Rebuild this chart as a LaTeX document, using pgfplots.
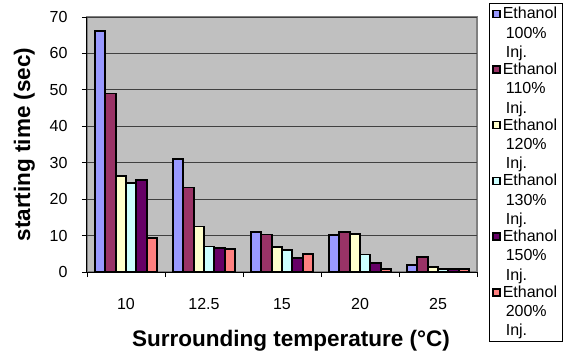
\documentclass[border=0pt]{standalone}
\usepackage{pgfplots}
\usepackage{pgfplotstable}
\pgfplotsset{compat=1.18}
\usepackage{fontspec}
\setmainfont{Liberation Sans}

\definecolor{cA}{HTML}{9999FF}
\definecolor{cB}{HTML}{993366}
\definecolor{cC}{HTML}{FFFFCC}
\definecolor{cD}{HTML}{CCFFFF}
\definecolor{cE}{HTML}{660066}
\definecolor{cF}{HTML}{FF8080}
\definecolor{plotgray}{HTML}{C0C0C0}

% starting time (sec) per surrounding temperature, one column per injection ratio
\pgfplotstableread{
idx  e100 e110 e120 e130 e150 e200
0    66.2 49.0 26.4 24.5 25.3 9.3
1    31.0 23.2 12.5 7.0  6.7  6.4
2    11.1 10.3 6.9  6.0  3.8  5.0
3    10.1 11.0 10.5 4.8  2.5  0.9
4    1.8  4.1  1.4  0.9  0.9  0.8
}\startdata

% legend swatch sits beside the first line of a three-line entry
\pgfplotsset{
  sqlegend/.style={legend image code/.code={%
    \draw[##1, draw=black, line width=1.5pt] (0pt,15.8pt) rectangle (7pt,22.8pt);}},
  barstyle/.style={fill=#1, draw=black, line width=1.9pt, sqlegend},
}

\begin{document}
\begin{tikzpicture}
\useasboundingbox (-87pt,-82pt) rectangle (483pt,272pt);
\begin{axis}[
  at={(0,0)}, anchor=south west,
  scale only axis, width=390pt, height=255pt,
  xmin=-0.5, xmax=4.5, ymin=0, ymax=70,
  ybar=0pt, bar width=10.4pt,
  axis background/.style={fill=plotgray, draw=gray, line width=1.5pt},
  axis x line*=bottom, axis y line*=left,
  axis line style={black, line width=1pt},
  ytick={0,10,...,70},
  yticklabel style={xshift=-11pt},
  xtick={-0.5,0.5,...,4.5}, xticklabels={,,,,,},
  extra x ticks={0,1,2,3,4},
  extra x tick labels={10,12.5,15,20,25},
  extra x tick style={major tick length=0pt, xticklabel style={yshift=-23pt}},
  tick align=outside, major tick length=5pt,
  tick style={black, line width=0.8pt},
  ymajorgrids, xmajorgrids=false,
  grid style={black!75, line width=0.9pt},
  /pgf/number format/assume math mode=true,
  ticklabel style={font=\fontsize{16}{19}\selectfont},
  xlabel={Surrounding temperature (°C)},
  ylabel={starting time (sec)},
  label style={font=\fontsize{22.5}{26}\selectfont\bfseries},
  xlabel shift=8pt, ylabel shift=8pt,
  xlabel style={xshift=9pt},
  legend style={at={(1,1)}, anchor=north west, xshift=12pt, yshift=14pt,
    draw=black, line width=0.6pt, fill=white,
    font=\fontsize{16}{19.3}\selectfont,
    cells={anchor=west, align=left}},
]
\addplot[barstyle=cA] table[x=idx, y=e100] {\startdata};
\addlegendentry{Ethanol\\\hspace{3pt}100\%\\\hspace{3pt}Inj.}
\addplot[barstyle=cB] table[x=idx, y=e110] {\startdata};
\addlegendentry{Ethanol\\\hspace{3pt}110\%\\\hspace{3pt}Inj.}
\addplot[barstyle=cC] table[x=idx, y=e120] {\startdata};
\addlegendentry{Ethanol\\\hspace{3pt}120\%\\\hspace{3pt}Inj.}
\addplot[barstyle=cD] table[x=idx, y=e130] {\startdata};
\addlegendentry{Ethanol\\\hspace{3pt}130\%\\\hspace{3pt}Inj.}
\addplot[barstyle=cE] table[x=idx, y=e150] {\startdata};
\addlegendentry{Ethanol\\\hspace{3pt}150\%\\\hspace{3pt}Inj.}
\addplot[barstyle=cF] table[x=idx, y=e200] {\startdata};
\addlegendentry{Ethanol\\\hspace{3pt}200\%\\\hspace{3pt}Inj.}
\end{axis}
\end{tikzpicture}
\end{document}
